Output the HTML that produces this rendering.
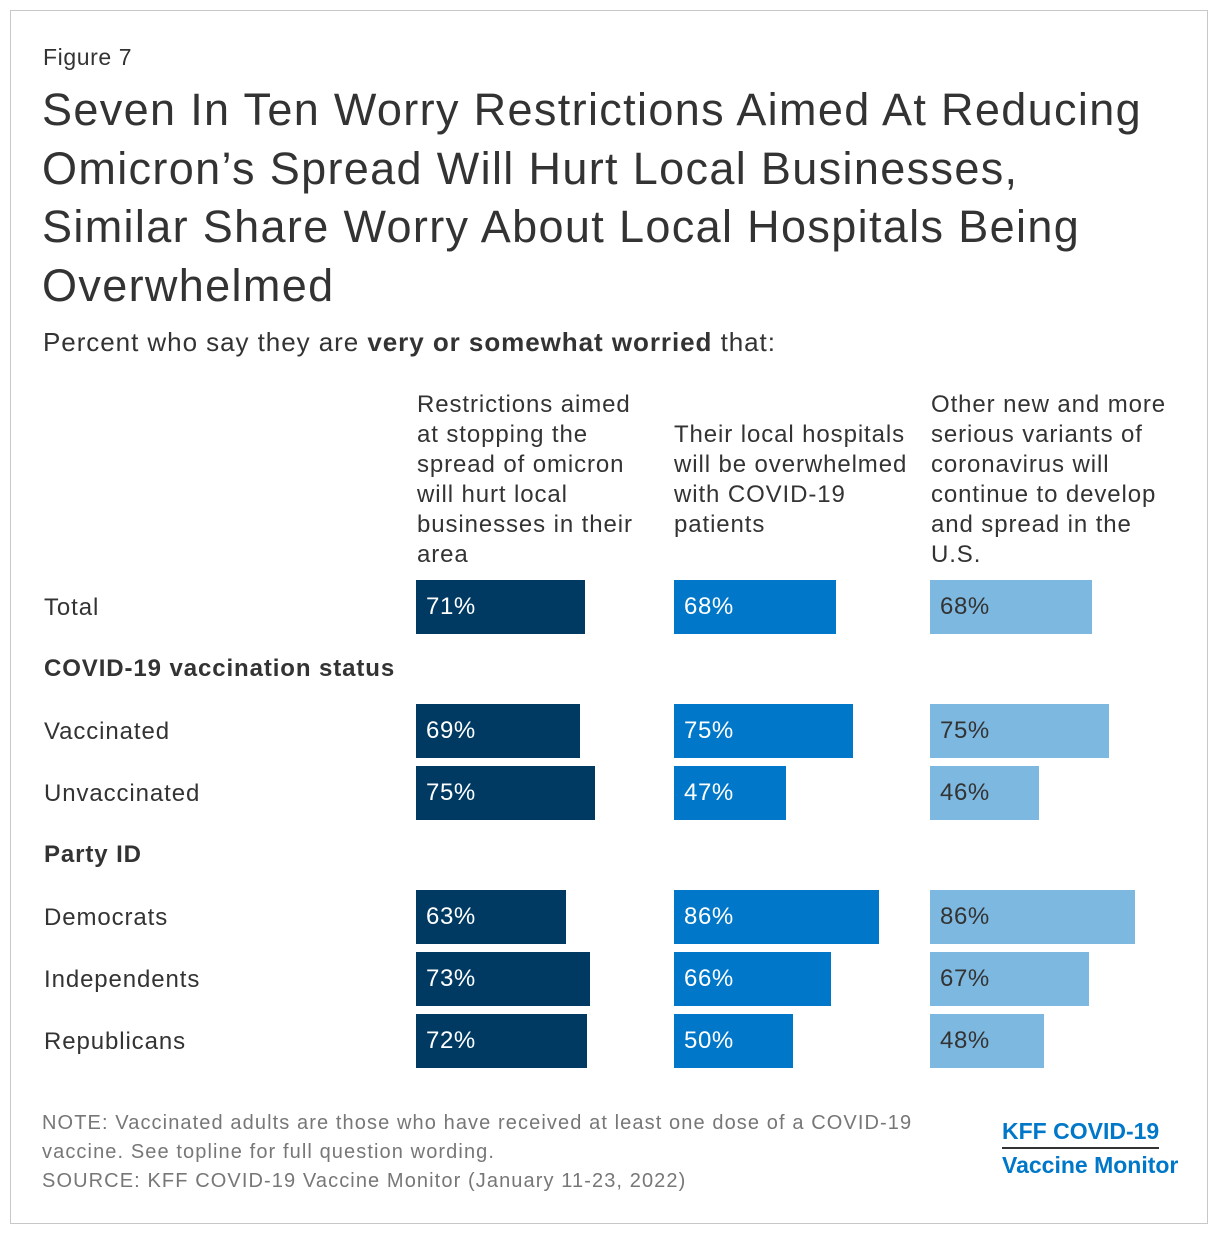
<!DOCTYPE html>
<html><head><meta charset="utf-8">
<style>
body{margin:0;width:1220px;height:1236px;background:#fff;font-family:"Liberation Sans",sans-serif;position:relative;overflow:hidden}
.frame{position:absolute;left:10px;top:10px;width:1198px;height:1214px;border:1px solid #c8c8c8;box-sizing:border-box}
.t{position:absolute;color:#333;white-space:nowrap}
.hdr{position:absolute;font-size:24px;letter-spacing:0.9px;line-height:30px;color:#333;white-space:nowrap}
.lbl{position:absolute;left:44px;font-size:24px;letter-spacing:0.9px;color:#333}
.bar{position:absolute;height:54px;color:#fff;font-size:24px;letter-spacing:0.6px;line-height:54px;padding-left:10px;box-sizing:border-box}
</style></head><body>
<div class="frame"></div>
<div class="t" style="left:43px;top:44px;font-size:23px;letter-spacing:0.6px">Figure 7</div>
<div class="t" style="left:42px;top:81px;font-size:45px;letter-spacing:1.35px;line-height:58.5px">Seven In Ten Worry Restrictions Aimed At Reducing<br>Omicron’s Spread Will Hurt Local Businesses,<br>Similar Share Worry About Local Hospitals Being<br>Overwhelmed</div>
<div class="t" style="left:43px;top:327px;font-size:26px;letter-spacing:0.95px">Percent who say they are <b>very or somewhat worried</b> that:</div>
<div class="hdr" style="left:417px;top:390px">Restrictions aimed<br>at stopping the<br>spread of omicron<br>will hurt local<br>businesses in their<br>area</div>
<div class="hdr" style="left:674px;top:420px">Their local hospitals<br>will be overwhelmed<br>with COVID-19<br>patients</div>
<div class="hdr" style="left:931px;top:390px">Other new and more<br>serious variants of<br>coronavirus will<br>continue to develop<br>and spread in the<br>U.S.</div>
<div id="chart"></div>
<div class="t" style="left:42px;top:1109px;font-size:20px;letter-spacing:1.1px;line-height:29px;color:#777">NOTE: Vaccinated adults are those who have received at least one dose of a COVID-19<br>vaccine. See topline for full question wording.<br>SOURCE: KFF COVID-19 Vaccine Monitor (January 11-23, 2022)</div>
<div style="position:absolute;left:1002px;top:1118px;color:#0077C8;font-weight:bold;font-size:23px;line-height:26px"><div style="border-bottom:2px solid #333;padding-bottom:3px;display:inline-block">KFF COVID-19</div><div style="margin-top:3px">Vaccine Monitor</div></div>
<script>
const categories=["Total","Vaccinated","Unvaccinated","Democrats","Independents","Republicans"];
const rowTops=[580,704,766,890,952,1014];
const businesses=[71,69,75,63,73,72];
const hospitals=[68,75,47,86,66,50];
const variants=[68,75,46,86,67,48];
const groups=[["COVID-19 vaccination status",655],["Party ID",841]];
const series=[[businesses,416,"#003A63","#fff","businesses"],[hospitals,674,"#0077C8","#fff","hospitals"],[variants,930,"#7DB8E0","#333","variants"]];
const scale=v=>v*2.38;
const c=document.getElementById('chart');
groups.forEach(g=>{const d=document.createElement('div');d.className='lbl';d.style.top=g[1]+'px';d.style.fontWeight='bold';d.textContent=g[0];


c.appendChild(d);});
categories.forEach((cat,i)=>{
const l=document.createElement('div');l.className='lbl';l.style.top=(rowTops[i]+14)+'px';l.textContent=cat;


c.appendChild(l);
series.forEach(s=>{const b=document.createElement('div');b.className='bar';b.style.left=s[1]+'px';b.style.top=rowTops[i]+'px';b.style.width=scale(s[0][i])+'px';b.style.background=s[2];b.style.color=s[3];b.textContent=s[0][i]+'%';


c.appendChild(b);});
});
</script>
</body></html>
